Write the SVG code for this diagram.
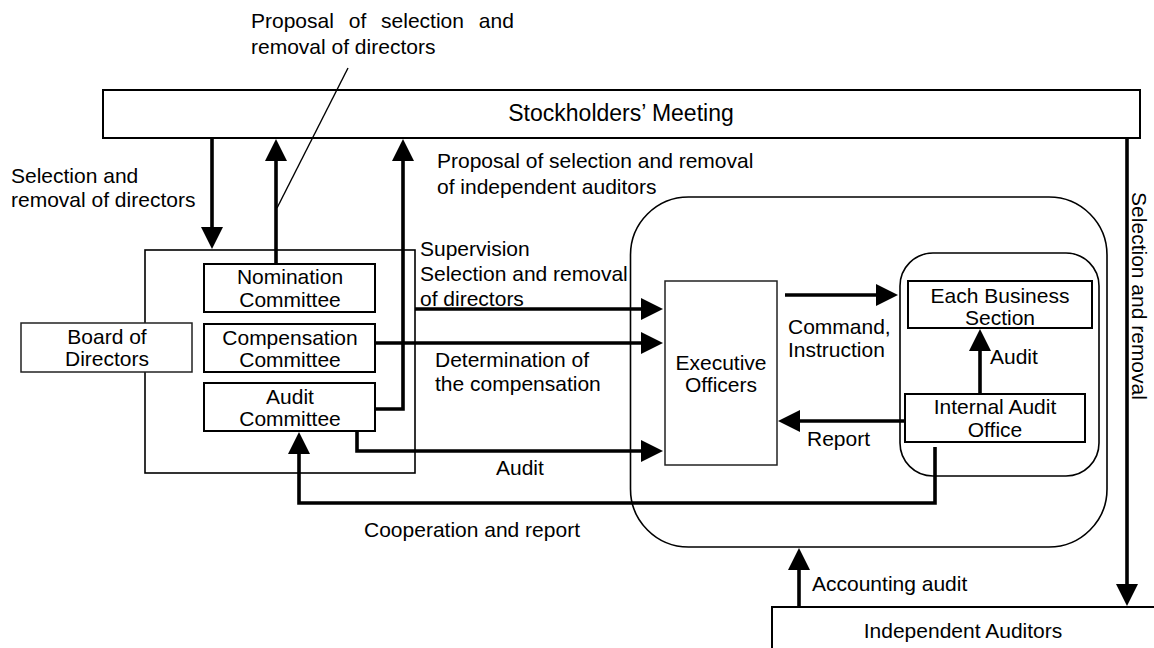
<svg xmlns="http://www.w3.org/2000/svg" width="1154" height="648" viewBox="0 0 1154 648">
<defs>
<style>
text{font-family:"Liberation Sans",Arial,sans-serif;font-size:21px;fill:#000}
.c{text-anchor:middle}
.box{fill:#fff;stroke:#000;stroke-width:2}
.thin{fill:#fff;stroke:#222;stroke-width:1.5}
.cont{fill:none;stroke:#000;stroke-width:1.6}
.arr{fill:none;stroke:#000;stroke-width:3.6;marker-end:url(#ah)}
.hair{fill:none;stroke:#000;stroke-width:1.4}
</style>
<marker id="ah" markerUnits="userSpaceOnUse" markerWidth="23" markerHeight="22" refX="16" refY="11" orient="auto">
<path d="M0,0 L22,11 L0,22 z" fill="#000"/>
</marker>
</defs>
<rect width="1154" height="648" fill="#fff"/>

<g id="stockholders">
<rect class="box" x="103" y="90" width="1037" height="48"/>
<text class="c" x="621" y="121" style="font-size:23px">Stockholders’ Meeting</text>
</g>

<g id="board-container">
<rect class="cont" x="145" y="250" width="270" height="223"/>
</g>

<g id="board">
<rect class="thin" x="21" y="323" width="171" height="49"/>
<text class="c" x="107" y="344">Board of</text>
<text class="c" x="107" y="366">Directors</text>
</g>

<g id="nomination">
<rect class="box" x="204" y="264" width="171" height="48"/>
<text class="c" x="290" y="284">Nomination</text>
<text class="c" x="290" y="307">Committee</text>
</g>

<g id="compensation">
<rect class="box" x="204" y="324" width="171" height="48"/>
<text class="c" x="290" y="345">Compensation</text>
<text class="c" x="290" y="367">Committee</text>
</g>

<g id="audit-committee">
<rect class="box" x="204" y="383" width="171" height="48"/>
<text class="c" x="290" y="404">Audit</text>
<text class="c" x="290" y="426">Committee</text>
</g>

<g id="executive-container">
<rect class="cont" x="630.5" y="197" width="476.5" height="350" rx="58" ry="58"/>
</g>

<g id="executive">
<rect class="thin" x="665" y="281" width="112" height="184"/>
<text class="c" x="721" y="370">Executive</text>
<text class="c" x="721" y="392">Officers</text>
</g>

<g id="business-container">
<rect class="cont" x="900" y="253" width="199" height="223" rx="33" ry="33"/>
</g>

<g id="business">
<rect class="box" x="908" y="281" width="184" height="47"/>
<text class="c" x="1000" y="303">Each Business</text>
<text class="c" x="1000" y="325">Section</text>
</g>

<g id="internal-audit">
<rect class="box" x="905" y="394" width="180" height="48"/>
<text class="c" x="995" y="414">Internal Audit</text>
<text class="c" x="995" y="437">Office</text>
</g>

<g id="independent-auditors">
<rect class="box" x="772" y="607" width="400" height="60"/>
<text class="c" x="963" y="638">Independent Auditors</text>
</g>

<g id="connectors">
<path class="arr" d="M212,138 V243"/>
<path class="arr" d="M276,264 V145"/>
<path class="arr" d="M375,409 H403 V145"/>
<path class="arr" d="M415,309 H657"/>
<path class="arr" d="M375,343 H657"/>
<path class="arr" d="M357,431 V451 H657"/>
<path class="arr" d="M785,295 H892"/>
<path class="arr" d="M905,421 H784"/>
<path class="arr" d="M980,394 V335"/>
<path class="arr" d="M935,447 V503 H299 V438"/>
<path class="arr" d="M799,607 V554"/>
<path class="arr" d="M1127,138 V600"/>
<path class="hair" d="M348,68 L277,208"/>
</g>

<g id="labels">
<text x="251" y="28" word-spacing="9">Proposal of selection and</text>
<text x="251" y="54">removal of directors</text>
<text x="11" y="183">Selection and</text>
<text x="11" y="207">removal of directors</text>
<text x="437" y="168">Proposal of selection and removal</text>
<text x="437" y="194">of independent auditors</text>
<text x="420" y="256">Supervision</text>
<text x="420" y="281">Selection and removal</text>
<text x="420" y="306">of directors</text>
<text x="435" y="367">Determination of</text>
<text x="435" y="391">the compensation</text>
<text x="496" y="475">Audit</text>
<text x="364" y="537">Cooperation and report</text>
<text x="788" y="334">Command,</text>
<text x="788" y="357">Instruction</text>
<text x="990" y="364">Audit</text>
<text x="807" y="446">Report</text>
<text x="812" y="591">Accounting audit</text>
<text class="c" transform="translate(1132,296) rotate(90)" x="0" y="0">Selection and removal</text>
</g>
</svg>
